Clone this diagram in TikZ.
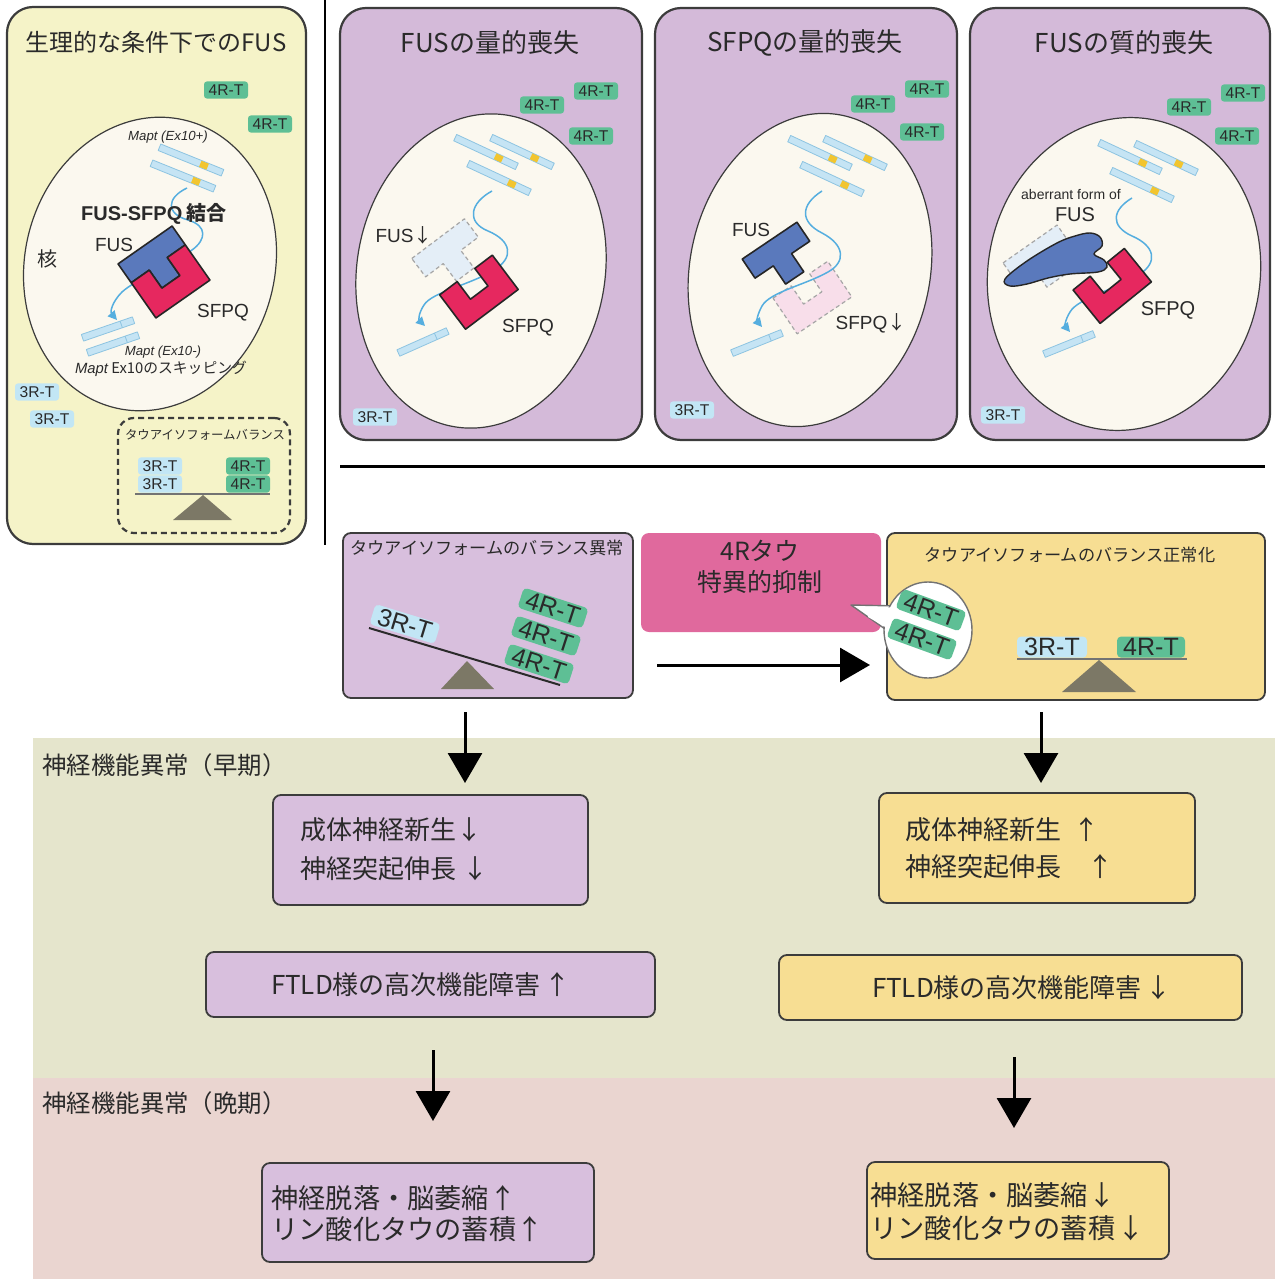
\documentclass[tikz,border=0pt]{standalone}
\usepackage{fontspec}
\setmainfont{Noto Sans CJK JP}
\newfontfamily\lsans{Liberation Sans}
\usetikzlibrary{arrows.meta,fit}

\newcommand{\fsz}[1]{\fontsize{#1}{#1}\selectfont}

\definecolor{cellYellow}{HTML}{F5F3C8}
\definecolor{cellPurple}{HTML}{D4BAD9}
\definecolor{nucleus}{HTML}{FBF8EF}
\definecolor{tauBlue}{HTML}{C2E6F5}
\definecolor{tauGreen}{HTML}{5EBF95}
\definecolor{fusBlue}{HTML}{5A79BC}
\definecolor{sfpqRed}{HTML}{E6285F}
\definecolor{ghostBlue}{HTML}{E4EEF7}
\definecolor{ghostPink}{HTML}{F8DEEA}
\definecolor{rnaBlue}{HTML}{C5E4F4}
\definecolor{rnaEdge}{HTML}{8DC4E1}
\definecolor{exonYellow}{HTML}{F2C52F}
\definecolor{wireBlue}{HTML}{55AEDF}
\definecolor{fulcrum}{HTML}{7C7866}
\definecolor{boxPurple}{HTML}{D8BFDD}
\definecolor{boxYellow}{HTML}{F7DE93}
\definecolor{inhibPink}{HTML}{E0699D}
\definecolor{earlyBand}{HTML}{E5E5CC}
\definecolor{lateBand}{HTML}{EAD5D0}
\definecolor{ink}{HTML}{2A2A2A}
\definecolor{frame}{HTML}{3C3C3C}

\tikzset{
  % FUS drawn as a T, SFPQ as a U; both share the centre of one 66 x 66 square
  fusTsolid/.pic={\path[fill=fusBlue, draw=black!85, line width=0.8pt]
    (-33,-33) -- (33,-33) -- (33,-10) -- (11,-10) -- (11,12) -- (-11,12) -- (-11,-10) -- (-33,-10) -- cycle;},
  fusTghost/.pic={\path[fill=ghostBlue, draw=black!35, dash pattern=on 2pt off 1.5pt, line width=0.6pt]
    (-33,-33) -- (33,-33) -- (33,-10) -- (11,-10) -- (11,12) -- (-11,12) -- (-11,-10) -- (-33,-10) -- cycle;},
  sfpqUsolid/.pic={\path[fill=sfpqRed, draw=black!85, line width=0.8pt]
    (-33,-10) -- (-11,-10) -- (-11,12) -- (11,12) -- (11,-10) -- (33,-10) -- (33,33) -- (-33,33) -- cycle;},
  sfpqUghost/.pic={\path[fill=ghostPink, draw=black!35, dash pattern=on 2pt off 1.5pt, line width=0.6pt]
    (-33,-10) -- (-11,-10) -- (-11,12) -- (11,12) -- (11,-10) -- (33,-10) -- (33,33) -- (-33,33) -- cycle;},
  % Mapt transcripts: with exon 10 (yellow) and with exon 10 skipped
  exonbar/.pic={
    \path[fill=rnaBlue, draw=rnaEdge, line width=0.4pt] (-34,-3.5) rectangle (34,3.5);
    \path[fill=exonYellow] (10,-3.2) rectangle (18,3.2);},
  skipbar/.pic={
    \path[fill=rnaBlue, draw=rnaEdge, line width=0.4pt] (-27,-3.5) rectangle (27,3.5);
    \draw[rnaEdge, line width=0.4pt] (14,-3.5) -- (14,3.5);},
}

\begin{document}
\begin{tikzpicture}[x={(0.5pt,0)}, y={(0,-0.5pt)}, line join=round,
  cell/.style={draw=frame, line width=1.1pt, rounded corners=13pt, inner sep=0pt},
  flowbox/.style={draw=frame, line width=0.9pt, rounded corners=4pt, inner sep=0pt},
  tag/.style={rounded corners=1.5pt, inner sep=0pt, minimum width=22pt, minimum height=8.6pt, text=ink, font=\lsans\fsz{7.8}},
  tagB/.style={tag, fill=tauBlue},
  tagG/.style={tag, fill=tauGreen},
  bigtag/.style={rounded corners=2pt, inner sep=0pt, minimum width=34pt, minimum height=10.5pt, text=ink, font=\lsans\fsz{12.5}},
  bigB/.style={bigtag, fill=tauBlue},
  bigG/.style={bigtag, fill=tauGreen},
  nuc/.style={fill=nucleus, draw=frame, line width=0.6pt},
  wire/.style={draw=wireBlue, line width=0.75pt, -{Triangle[length=4.5pt,width=4.5pt]}},
  ptext/.style={text=ink, font=\lsans\fsz{9.5}, inner sep=0pt},
  ttitle/.style={text=ink, font=\fsz{13}, inner sep=0pt},
  midtitle/.style={text=ink, font=\fsz{8.6}, inner sep=0pt},
  flowtext/.style={text=ink, font=\fsz{13}, inner sep=0pt, anchor=west},
  bandtext/.style={text=ink, font=\fsz{12.2}, inner sep=0pt, anchor=west},
  bigarrow/.style={line width=1.5pt, -{Triangle[length=15pt,width=17pt]}},
]
\useasboundingbox (0,0) rectangle (1275,1279);

% ---------- bottom bands: early and late dysfunction ----------
\path[fill=earlyBand] (33,738) rectangle (1275,1078);
\path[fill=lateBand] (33,1078) rectangle (1275,1279);

% ---------- physiological FUS ----------
\node (cellN) [cell, fill=cellYellow, fit={(7,7) (306,544)}] {};
\node (nTitle) [text=ink, font=\fsz{12}, inner sep=0pt] at (156,42) {生理的な条件下でのFUS};
\path[nuc, rotate around={-14:(150,264)}] (150,264) ellipse [x radius=125, y radius=148];
\node (n4a) [tagG] at (226,90) {4R-T};
\node (n4b) [tagG] at (270,124) {4R-T};
\node (nMaptA) [text=ink, font=\lsans\itshape\fsz{6.6}, inner sep=0pt] at (168,137) {Mapt (Ex10+)};
\pic[rotate=-22] at (191,160) {exonbar};
\pic[rotate=-22] at (183,176) {exonbar};
\draw[wire] (187,188) .. controls (166,198) and (166,214) .. (188,220)
  .. controls (208,226) and (206,240) .. (192,250)
  .. controls (170,266) and (135,280) .. (122,292)
  .. controls (112,302) and (110,312) .. (117,320);
\pic[rotate=35] at (164,272) {fusTsolid};
\pic[rotate=35] at (164,272) {sfpqUsolid};
\pic[rotate=19] at (108,329) {skipbar};
\pic[rotate=19] at (113,344) {skipbar};
\node (nBind) [text=ink, font=\fsz{10}, inner sep=0pt] at (154,214) {{\lsans\bfseries FUS-SFPQ} {\bfseries 結合}};
\node (nFus) [ptext] at (114,245) {FUS};
\node (nCore) [text=ink, font=\fsz{10}, inner sep=0pt] at (47,259) {核};
\node (nSfpq) [ptext] at (223,313) {SFPQ};
\node (nMaptB) [text=ink, font=\lsans\itshape\fsz{6.6}, inner sep=0pt] at (163,352) {Mapt (Ex10-)};
\node (nSkip) [text=ink, font=\fsz{7.4}, inner sep=0pt] at (161,369) {{\lsans\itshape Mapt} Ex10のスキッピング};
\node (n3a) [tagB] at (37,392) {3R-T};
\node (n3b) [tagB] at (52,419) {3R-T};
\node (nBal) [fit={(118,418) (290,533)}, draw=frame, line width=1.1pt, dash pattern=on 3pt off 2pt, rounded corners=8pt, inner sep=0pt] {};
\node (nBalT) [text=ink, font=\fsz{6.2}, inner sep=0pt] at (205,435) {タウアイソフォームバランス};
\path[fill=fulcrum] (203,495) -- (232,520) -- (173,520) -- cycle;
\draw[black!55, line width=1pt] (135,494) -- (270,494);
\node (nb3a) [tagB] at (160,466) {3R-T};
\node (nb3b) [tagB] at (160,484) {3R-T};
\node (nb4a) [tagG] at (248,466) {4R-T};
\node (nb4b) [tagG] at (248,484) {4R-T};

\coordinate (divTop) at (325,0);
\coordinate (divBot) at (325,545);
\draw[line width=0.8pt] (divTop) -- (divBot);

% ---------- loss of FUS quantity ----------
\node (p1) [cell, fill=cellPurple, fit={(340,8) (642,440)}] {};
\node (p1T) [ttitle] at (490,43) {FUSの量的喪失};
\path[nuc, rotate around={-10:(481,271)}] (481,271) ellipse [x radius=124, y radius=158];
\node (p1a) [tagG] at (596,91) {4R-T};
\node (p1b) [tagG] at (542,105) {4R-T};
\node (p1c) [tagG] at (591,136) {4R-T};
\node (p1d) [tagB] at (375,417) {3R-T};
\pic[rotate=-25] at (486,152) {exonbar};
\pic[rotate=-25] at (522,152) {exonbar};
\pic[rotate=-25] at (499,178) {exonbar};
\pic[rotate=37] at (458,265) {fusTghost};
\draw[wire] (492,191) .. controls (470,203) and (466,222) .. (488,231)
  .. controls (512,241) and (514,258) .. (494,270)
  .. controls (470,285) and (432,292) .. (424,305)
  .. controls (418,314) and (419,320) .. (425,326);
\pic[rotate=37] at (472,283) {sfpqUsolid};
\pic[rotate=24] at (423,342) {skipbar};
\node (p1F) [ptext] at (404,235) {FUS{\rmfamily ↓}};
\node (p1S) [ptext] at (528,328) {SFPQ};

% ---------- loss of SFPQ quantity ----------
\node (p2) [cell, fill=cellPurple, fit={(655,8) (957,440)}] {};
\node (p2T) [ttitle] at (805,43) {SFPQの量的喪失};
\path[nuc, rotate around={-12:(810,270)}] (810,270) ellipse [x radius=120, y radius=158];
\node (p2a) [tagG] at (927,89) {4R-T};
\node (p2b) [tagG] at (873,104) {4R-T};
\node (p2c) [tagG] at (922,132) {4R-T};
\node (p2d) [tagB] at (692,410) {3R-T};
\pic[rotate=-25] at (820,153) {exonbar};
\pic[rotate=-25] at (855,153) {exonbar};
\pic[rotate=-25] at (832,179) {exonbar};
\pic[rotate=34] at (806,288) {sfpqUghost};
\draw[wire] (822,191) .. controls (800,205) and (800,222) .. (822,233)
  .. controls (845,245) and (846,262) .. (828,272)
  .. controls (805,285) and (770,292) .. (762,306)
  .. controls (757,315) and (757,321) .. (762,327);
\pic[rotate=34] at (788,268) {fusTsolid};
\pic[rotate=22] at (757,343) {skipbar};
\node (p2F) [ptext] at (751,230) {FUS};
\node (p2S) [ptext] at (871,323) {SFPQ{\rmfamily ↓}};

% ---------- loss of FUS quality ----------
\node (p3) [cell, fill=cellPurple, fit={(970,8) (1270,440)}] {};
\node (p3T) [ttitle] at (1124,43) {FUSの質的喪失};
\path[nuc, rotate around={-10:(1124,274)}] (1124,274) ellipse [x radius=136, y radius=157];
\node (p3a) [tagG] at (1243,93) {4R-T};
\node (p3b) [tagG] at (1189,107) {4R-T};
\node (p3c) [tagG] at (1237,136) {4R-T};
\node (p3d) [tagB] at (1003,415) {3R-T};
\pic[rotate=-25] at (1130,157) {exonbar};
\pic[rotate=-25] at (1166,158) {exonbar};
\pic[rotate=-25] at (1142,185) {exonbar};
\pic[rotate=35] at (1049,271) {fusTghost};
\draw[wire] (1132,198) .. controls (1112,210) and (1110,226) .. (1132,236)
  .. controls (1155,246) and (1158,262) .. (1140,274)
  .. controls (1115,290) and (1078,298) .. (1070,312)
  .. controls (1065,320) and (1065,326) .. (1070,332);
\path[fill=fusBlue, draw=black!85, line width=0.7pt] plot[smooth cycle, tension=0.6] coordinates
  {(1005,279) (1027,261) (1057,243) (1075,236) (1090,233) (1100,237) (1102,246) (1094,254)
   (1104,260) (1107,267) (1098,272) (1070,274) (1048,278) (1027,284) (1010,286)};
\pic[rotate=39] at (1105,277) {sfpqUsolid};
\pic[rotate=22] at (1069,344) {skipbar};
\node (p3Ab) [text=ink, font=\lsans\fsz{7}, inner sep=0pt] at (1071,194) {aberrant form of};
\node (p3F) [ptext, font=\lsans\fsz{10}] at (1075,215) {FUS};
\node (p3S) [ptext, font=\lsans\fsz{10}] at (1168,310) {SFPQ};

\coordinate (ruleL) at (340,466);
\coordinate (ruleR) at (1265,466);
\draw[line width=1.5pt] (ruleL) -- (ruleR);

% ---------- isoform balance: abnormal -> normalised ----------
\node (imb) [flowbox, fill=boxPurple, fit={(343,533) (633,698)}] {};
\node (imbT) [midtitle] at (487,548) {タウアイソフォームのバランス異常};
\path[fill=fulcrum] (467,661) -- (494,689) -- (441,689) -- cycle;
\draw[ink, line width=1pt] (369,628) -- (560,685);
\node (imb3) [bigB, rotate=-17] at (405,624) {3R-T};
\node (imb4a) [bigG, rotate=-18] at (553,608) {4R-T};
\node (imb4b) [bigG, rotate=-18] at (546,636) {4R-T};
\node (imb4c) [bigG, rotate=-18] at (539,664) {4R-T};

\node (inhib) [fill=inhibPink, rounded corners=4pt, inner sep=0pt, fit={(641,533) (881,632)}] {};
\node (inhibA) [text=ink, font=\fsz{12.5}, inner sep=0pt] at (760,551) {4Rタウ};
\node (inhibB) [text=ink, font=\fsz{12.5}, inner sep=0pt] at (760,582) {特異的抑制};

\node (imy) [flowbox, fill=boxYellow, fit={(887,533) (1265,700)}] {};
\node (imyT) [midtitle] at (1070,555) {タウアイソフォームのバランス正常化};
\path[fill=fulcrum] (1099,660) -- (1136,692) -- (1062,692) -- cycle;
\draw[black!55, line width=1pt] (1017,659) -- (1187,659);
\node (imy3) [bigB, anchor=south, minimum width=35pt] at (1052,658) {3R-T};
\node (imy4) [bigG, anchor=south, minimum width=34pt] at (1151,658) {4R-T};

\coordinate (hA) at (657,665);
\coordinate (hB) at (870,665);
\draw[bigarrow] (hA) -- (hB);

% speech bubble holding the suppressed 4R tau
\coordinate (bubTip) at (851,605);
\path[fill=white, draw=black!55, line width=0.7pt] (bubTip) -- (900,606) -- (895,636) -- cycle;
\path[fill=white, draw=black!55, line width=0.7pt] (928,630) ellipse [x radius=44, y radius=48];
\path[fill=white] (868,607) -- (898,607.5) -- (894,632) -- (868,617) -- cycle;
\begin{scope}
  \clip (928,630) ellipse [x radius=43.3, y radius=47.3];
  \node (bub4a) [bigG, rotate=-20] at (931,610) {4R-T};
  \node (bub4b) [bigG, rotate=-20] at (922,639) {4R-T};
\end{scope}

% ---------- early dysfunction ----------
\node (earlyLbl) [bandtext] at (42,765) {神経機能異常（早期）};
\node (eL) [flowbox, fill=boxPurple, fit={(273,795) (588,905)}] {};
\node (eL1) [flowtext] at (300,830) {成体神経新生↓};
\node (eL2) [flowtext] at (300,869) {神経突起伸長\hspace{3pt}↓};
\node (eR) [flowbox, fill=boxYellow, fit={(879,793) (1195,903)}] {};
\node (eR1) [flowtext] at (905,830) {成体神経新生\hspace{6pt}↑};
\node (eR2) [flowtext] at (905,867) {神経突起伸長\hspace{13pt}↑};
\node (fL) [flowbox, fill=boxPurple, fit={(206,952) (655,1017)}] {};
\node (fL1) [text=ink, font=\fsz{13}, inner sep=0pt] at (421,985) {FTLD様の高次機能障害\hspace{2pt}↑};
\node (fR) [flowbox, fill=boxYellow, fit={(779,955) (1242,1020)}] {};
\node (fR1) [text=ink, font=\fsz{13}, inner sep=0pt] at (1022,988) {FTLD様の高次機能障害\hspace{2pt}↓};

% ---------- late dysfunction ----------
\node (lateLbl) [bandtext] at (42,1103) {神経機能異常（晩期）};
\node (lL) [flowbox, fill=boxPurple, fit={(262,1163) (594,1262)}] {};
\node (lL1) [flowtext, font=\fsz{13.6}] at (271,1198) {神経脱落・脳萎縮↑};
\node (lL2) [flowtext, font=\fsz{13.6}] at (271,1229) {リン酸化タウの蓄積↑};
\node (lR) [flowbox, fill=boxYellow, fit={(867,1162) (1169,1259)}] {};
\node (lR1) [flowtext, font=\fsz{13.6}] at (870,1195) {神経脱落・脳萎縮↓};
\node (lR2) [flowtext, font=\fsz{13.6}] at (870,1228) {リン酸化タウの蓄積\hspace{1pt}↓};

% ---------- arrows between stages ----------
\coordinate (aL1s) at (465,712);  \coordinate (aL1e) at (465,783);
\coordinate (aR1s) at (1041,712); \coordinate (aR1e) at (1041,783);
\coordinate (aL2s) at (433,1050); \coordinate (aL2e) at (433,1121);
\coordinate (aR2s) at (1014,1057); \coordinate (aR2e) at (1014,1128);
\draw[bigarrow] (aL1s) -- (aL1e);
\draw[bigarrow] (aR1s) -- (aR1e);
\draw[bigarrow] (aL2s) -- (aL2e);
\draw[bigarrow] (aR2s) -- (aR2e);
\end{tikzpicture}
\end{document}
